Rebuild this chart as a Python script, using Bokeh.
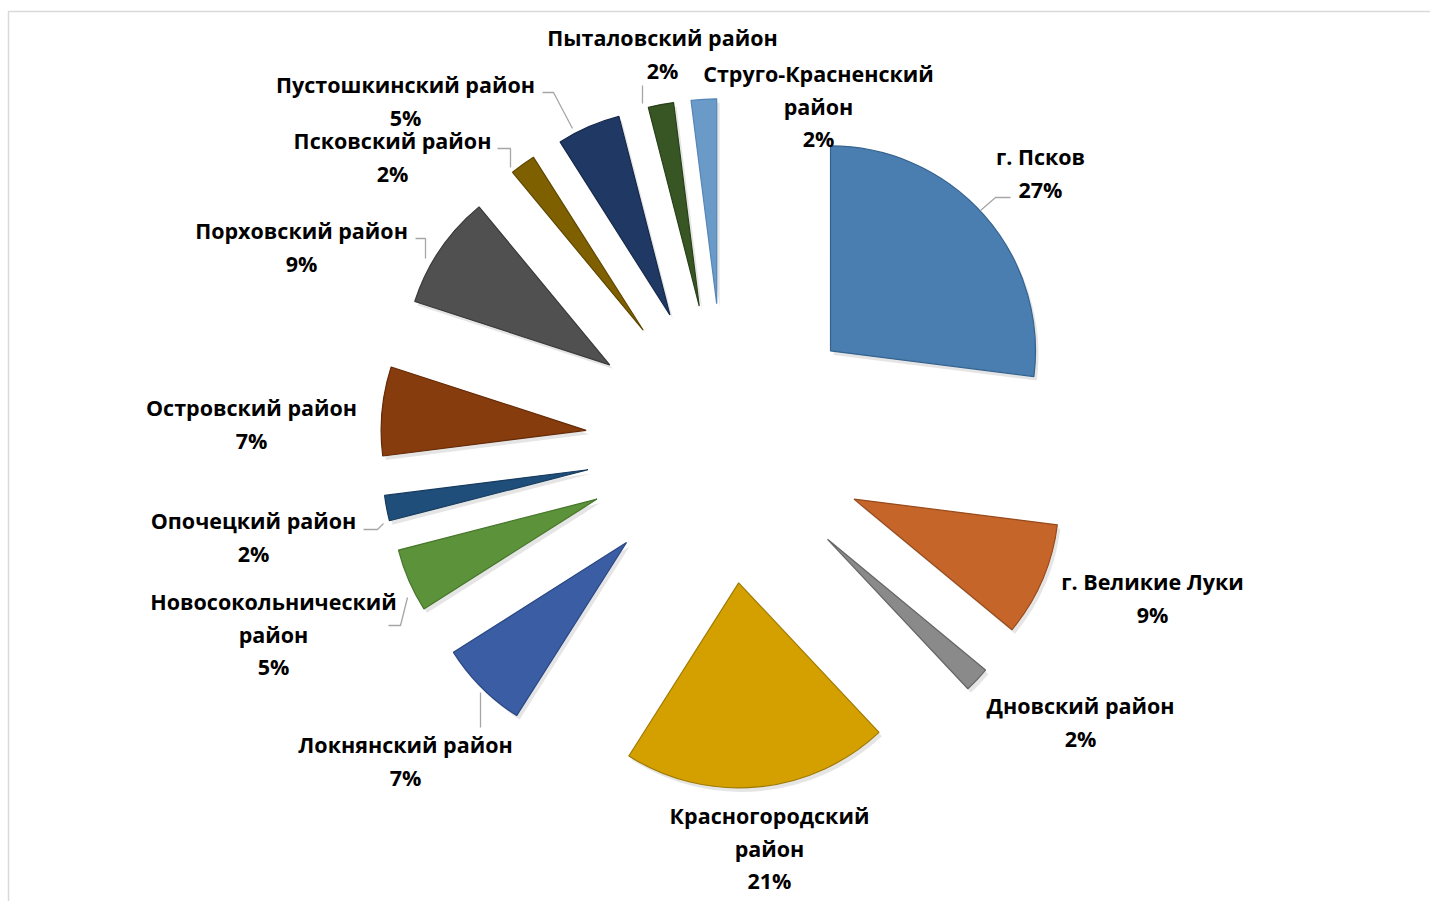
import math
from bokeh.plotting import figure
from bokeh.models import Range1d, ColumnDataSource
from bokeh.core.properties import value
from bokeh.embed import file_html
from bokeh.resources import INLINE

# ---- data (clockwise from 12 o'clock) ----
districts = ["г. Псков", "г. Великие Луки", "Дновский район", "Красногородский район",
             "Локнянский район", "Новосокольнический район", "Опочецкий район",
             "Островский район", "Порховский район", "Псковский район",
             "Пустошкинский район", "Пыталовский район", "Струго-Красненский район"]
shares = [27, 9, 2, 21, 7, 5, 2, 7, 9, 2, 5, 2, 2]
label_names = ["г. Псков", "г. Великие Луки", "Дновский район", "Красногородский\nрайон",
               "Локнянский район", "Новосокольнический\nрайон", "Опочецкий район",
               "Островский район", "Порховский район", "Псковский район",
               "Пустошкинский район", "Пыталовский район", "Струго-Красненский\nрайон"]

# ---- styles / layout ----
colors = ["#4A7EB0", "#C5652A", "#8A8A8A", "#D4A000", "#3A5DA3", "#5C923A", "#1F4E7A",
          "#873C0E", "#505050", "#7F6000", "#1F3864", "#375623", "#6A9AC8"]
edges = ["#35638F", "#974A1B", "#666666", "#A07A00", "#2A4784", "#46762B", "#163B5E",
         "#652B08", "#3A3A3A", "#5F4700", "#15294B", "#284119", "#5686B8"]
W, H = 1430, 901
def X(px): return px
def Y(py): return H - py

CX, CY = X(725), Y(443)
R = 205
EXPLODE = 140

# label first-line centre (image px) and leader polylines (image px)
label_pos = [(1040, 156), (1152, 581), (1080, 705), (769, 815), (405, 744), (273, 601),
             (253, 520), (251, 407), (301, 230), (392, 140), (405, 84), (662, 37), (818, 73)]
leaders = [
    [(980, 210), (995, 197), (1010, 197)],
    None, None, None,
    [(480, 692), (480, 727)],
    [(407, 597), (400, 625), (388, 625)],
    [(383, 523), (377, 529), (363, 529)],
    None,
    [(425, 258), (425, 238), (415, 238)],
    [(510, 167), (510, 148), (497, 148)],
    [(572, 128), (553, 92), (542, 92)],
    [(642, 103), (642, 85)],
    None,
]
LINE_GAP = 32.5

p = figure(width=W, height=H, output_backend="svg", toolbar_location=None,
           x_range=Range1d(0, W), y_range=Range1d(0, H), min_border=0,
           background_fill_color="white", border_fill_color="white")
p.axis.visible = False
p.grid.visible = False
p.outline_line_color = None

# chart area border (top and left edges visible)
p.line([X(8), X(8), W], [0, Y(11), Y(11)], line_color="#D9D9D9", line_width=1.5)

total = float(sum(shares))
xs, ys, sa, ea = [], [], [], []
f0 = 0.0
for s in shares:
    f1 = f0 + s / total
    mid = math.pi / 2 - 2 * math.pi * (f0 + f1) / 2
    xs.append(CX + EXPLODE * math.cos(mid))
    ys.append(CY + EXPLODE * math.sin(mid))
    sa.append(math.pi / 2 - 2 * math.pi * f1)
    ea.append(math.pi / 2 - 2 * math.pi * f0)
    f0 = f1

src = ColumnDataSource(dict(x=xs, y=ys, sa=sa, ea=ea, color=colors, edge=edges,
                            sx=[v + 3 for v in xs], sy=[v - 4 for v in ys], name=districts,
                            share=shares))
# soft shadow
p.wedge(x="sx", y="sy", radius=R, start_angle="sa", end_angle="ea", source=src,
        fill_color="#000000", fill_alpha=0.10, line_color=None)
p.wedge(x="x", y="y", radius=R, start_angle="sa", end_angle="ea", source=src,
        fill_color="color", line_color="edge", line_width=1.2)

# leader lines
lx, ly = [], []
for ld in leaders:
    if ld:
        lx.append([X(a) for a, b in ld])
        ly.append([Y(b) for a, b in ld])
p.multi_line(lx, ly, line_color="#A6A6A6", line_width=1.3)

# labels
tx, ty, tt = [], [], []
for name, s, (px, py) in zip(label_names, shares, label_pos):
    lines = name.split("\n") + [f"{s}%"]
    for i, ln in enumerate(lines):
        tx.append(X(px))
        ty.append(Y(py + i * LINE_GAP))
        tt.append(ln)
p.text(tx, ty, text=tt, text_font=value("Open Sans"), text_font_style="bold",
       text_font_size="21.5px", text_color="#000000", text_align="center",
       text_baseline="middle")

open("out.html", "w").write(file_html(p, INLINE))
